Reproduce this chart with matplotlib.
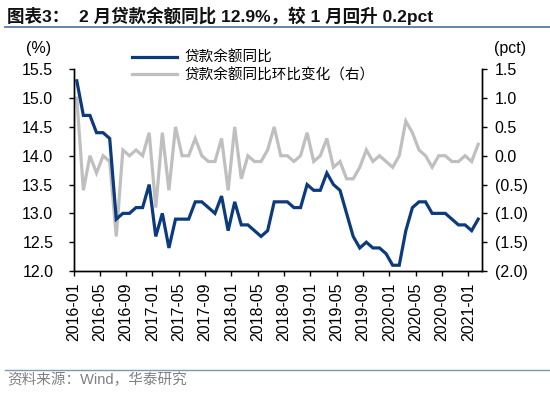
import matplotlib
matplotlib.use("Agg")
import matplotlib.pyplot as plt
from matplotlib.lines import Line2D
from matplotlib.ticker import FuncFormatter, FixedLocator

plt.rcParams['font.family'] = ['Liberation Sans', 'Noto Sans CJK SC', 'DejaVu Sans']

# ---------------- data ----------------
months = [f"{y}-{m:02d}" for y in range(2016, 2022) for m in range(1, 13)][:62]

loan_yoy = [15.3, 14.7, 14.7, 14.4, 14.4, 14.3, 12.9, 13.0, 13.0, 13.1, 13.1, 13.5,
            12.6, 13.0, 12.4, 12.9, 12.9, 12.9, 13.2, 13.2, 13.1, 13.0, 13.3, 12.7,
            13.2, 12.8, 12.8, 12.7, 12.6, 12.7, 13.2, 13.2, 13.2, 13.1, 13.1, 13.5,
            13.4, 13.4, 13.7, 13.5, 13.4, 13.0, 12.6, 12.4, 12.5, 12.4, 12.4, 12.3,
            12.1, 12.1, 12.7, 13.1, 13.2, 13.2, 13.0, 13.0, 13.0, 12.9, 12.8, 12.8,
            12.7, 12.9]

loan_mom_change = [1.0, -0.6, 0.0, -0.3, 0.0, -0.1, -1.4, 0.1, 0.0, 0.1, 0.0, 0.4,
                   -0.9, 0.4, -0.6, 0.5, 0.0, 0.0, 0.3, 0.0, -0.1, -0.1, 0.3, -0.6,
                   0.5, -0.4, 0.0, -0.1, -0.1, 0.1, 0.5, 0.0, 0.0, -0.1, 0.0, 0.4,
                   -0.1, 0.0, 0.3, -0.2, -0.1, -0.4, -0.4, -0.2, 0.1, -0.1, 0.0, -0.1,
                   -0.2, 0.0, 0.6, 0.4, 0.1, 0.0, -0.2, 0.0, 0.0, -0.1, -0.1, 0.0,
                   -0.1, 0.2]

tick_every = 4
left_ticks = [12.0, 12.5, 13.0, 13.5, 14.0, 14.5, 15.0, 15.5]
right_ticks = [-2.0, -1.5, -1.0, -0.5, 0.0, 0.5, 1.0, 1.5]

series1_name = "贷款余额同比"
series2_name = "贷款余额同比环比变化（右）"
title_text = "图表3：  2 月贷款余额同比 12.9%，较 1 月回升 0.2pct"
source_text = "资料来源：Wind，华泰研究"

# ---------------- figure ----------------
W, H = 550, 394
fig = plt.figure(figsize=(W / 100, H / 100), dpi=100)

left_px, right_px, top_px, bot_px = 73.5, 481.5, 69.3, 271.0
ax = fig.add_axes([left_px / W, 1 - bot_px / H, (right_px - left_px) / W, (bot_px - top_px) / H])
ax2 = ax.twinx()

blue = "#0C3B7D"
gray = "#BFBFBF"

x = list(range(len(months)))
l1, = ax.plot(x, loan_yoy, color=blue, lw=2.3, solid_joinstyle='miter', zorder=3)
l2, = ax2.plot(x, loan_mom_change, color=gray, lw=2.3, solid_joinstyle='miter', zorder=2)

ax.set_xlim(-0.5, len(months) - 0.5)
ax.set_ylim(12.0, 15.5)
ax2.set_ylim(-2.0, 1.5)

ax.set_zorder(ax2.get_zorder() + 1)
ax.patch.set_visible(False)

tick_pos = [i - 0.5 for i in range(0, len(months), tick_every)]
tick_lab = [months[i] for i in range(0, len(months), tick_every)]
ax.xaxis.set_major_locator(FixedLocator(tick_pos))
ax.set_xticklabels(tick_lab, rotation=90, fontsize=11.5)

ax.set_yticks(left_ticks)
ax.yaxis.set_major_formatter(FuncFormatter(lambda v, p: f"{v:.1f}"))
ax2.set_yticks(right_ticks)
ax2.yaxis.set_major_formatter(FuncFormatter(lambda v, p: f"({abs(v):.1f})" if v < -1e-9 else f"{v:.1f}"))

for a in (ax, ax2):
    a.spines["top"].set_visible(False)
    for s in ("left", "right", "bottom"):
        a.spines[s].set_linewidth(1.0)
        a.spines[s].set_color("black")

ax.tick_params(axis='y', direction='out', length=3.5, width=1, labelsize=11.5, pad=11)
ax.tick_params(axis='x', direction='out', length=3.5, width=1, labelsize=11.5, pad=5)
ax2.tick_params(axis='y', direction='out', length=3.5, width=1, labelsize=11.5, pad=6)

fig.text(38.5 / W, 1 - 48 / H, "(%)", ha='center', va='center', fontsize=11.5)
fig.text(510 / W, 1 - 48 / H, "(pct)", ha='center', va='center', fontsize=11.5)

# legend
ax.legend([l1, l2], [series1_name, series2_name], loc='upper left',
          bbox_to_anchor=(132 / W, 1 - 51 / H), bbox_transform=fig.transFigure,
          frameon=False, fontsize=10.5, handlelength=3.1, handletextpad=0.5,
          labelspacing=0.2, borderaxespad=0, borderpad=0)

# title and rules
fig.text(7 / W, 1 - 15.5 / H, title_text, ha='left', va='center', fontsize=12.6,
         fontweight='bold', color='#111111')
fig.add_artist(Line2D([5 / W, 1.0], [1 - 26.5 / H, 1 - 26.5 / H], color='#5B7BA6', lw=1.3))
fig.add_artist(Line2D([5 / W, 1.0], [1 - 369.5 / H, 1 - 369.5 / H], color='#7F96B8', lw=1.0))
fig.text(7 / W, 1 - 380 / H, source_text, ha='left', va='center', fontsize=10.5, color='#808080')

fig.savefig("out.png", dpi=100)
